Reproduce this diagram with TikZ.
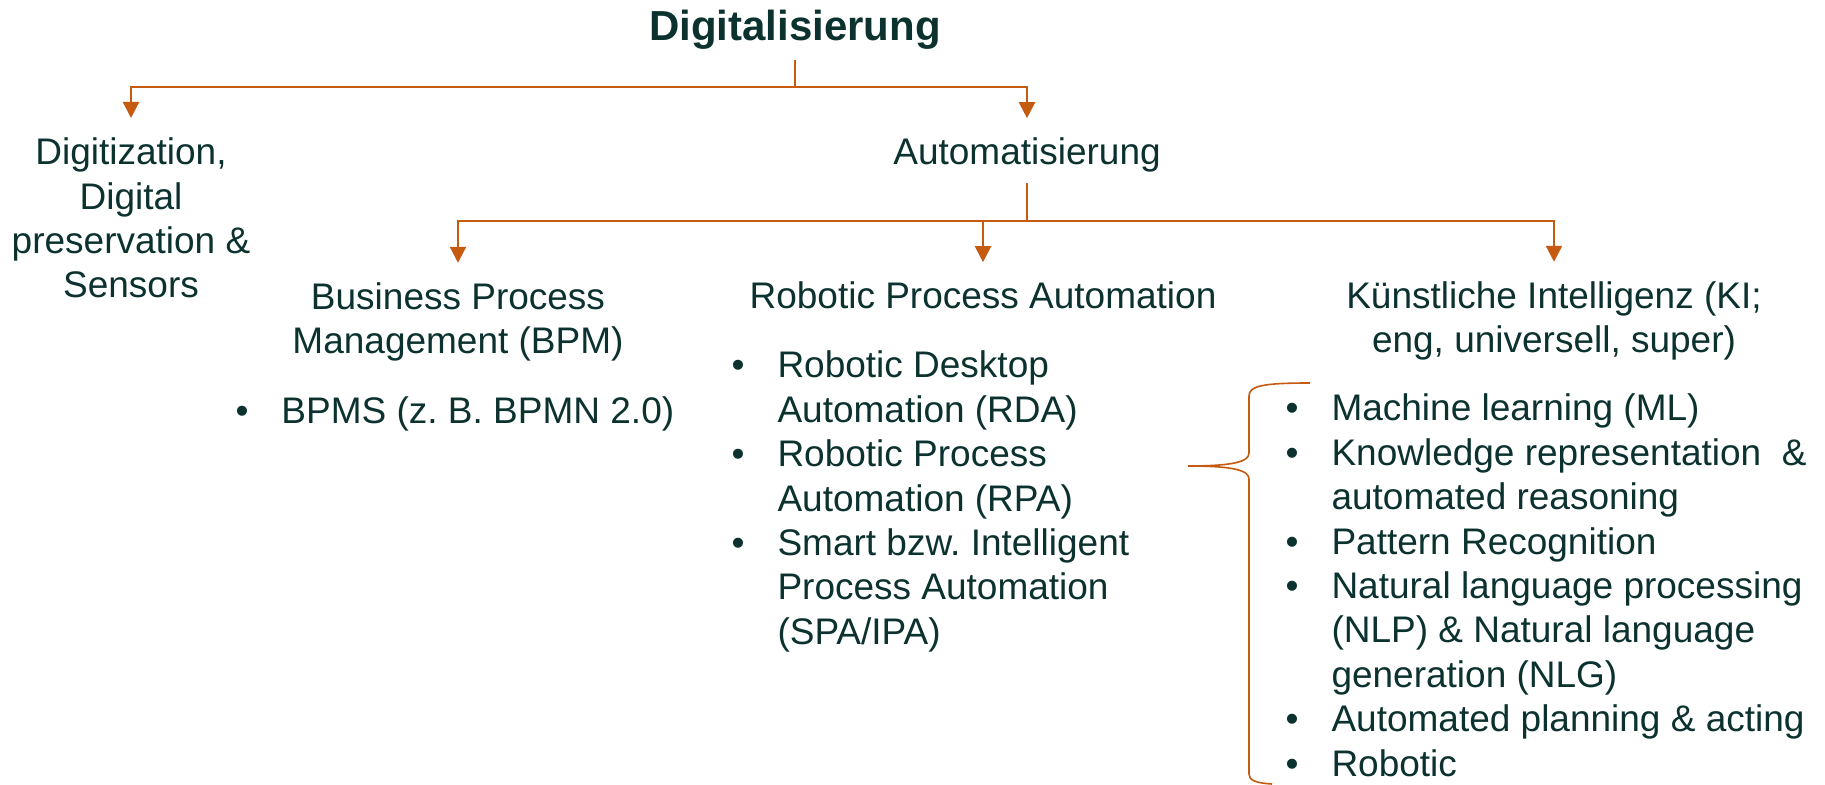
\documentclass[tikz,border=0pt]{standalone}
\usepackage{fontspec}
\setmainfont{Liberation Sans}
\usepackage{tikz}
\usetikzlibrary{arrows.meta}
\definecolor{ink}{HTML}{0C3230}
\definecolor{rust}{HTML}{C55A11}

\begin{document}
\begin{tikzpicture}[x=0.5pt, y=-0.5pt, color=ink,
    main/.style = {inner sep=0pt, outer sep=0pt, align=center, anchor=base, font=\fontsize{18.5}{22.2}\selectfont},
    list/.style = {inner sep=0pt, outer sep=0pt, anchor=base west, font=\fontsize{18.5}{22.2}\selectfont},
    stem/.style = {rust, line width=1.1pt, shorten <=5pt},
    arr/.style = {rust, line width=1.1pt, -{Triangle[length=8pt, width=8pt]}, shorten >=10pt},
    brace/.style = {rust, line width=0.8pt}]
        \useasboundingbox (0,0) rectangle (1825,785);

            \node[main, font=\fontsize{21}{25}\selectfont\bfseries] (1) at (795,41) {Digitalisierung};
            \node[main] (2) at (131,298) {Digitization,\\Digital\\preservation \&\\Sensors};
            \node[main] (3) at (1027,165) {Automatisierung};
            \node[main] (4) at (458,354) {Business Process\\Management (BPM)};
            \node[main] (5) at (983,309) {Robotic Process Automation};
            \node[main] (6) at (1554,353) {Künstliche Intelligenz (KI;\\eng, universell, super)};

            \node[list] (7) at (235.5,424) {\begin{tabular}[t]{@{}p{23pt}@{}l@{}}
                \textbullet & BPMS (z.\ B. BPMN 2.0)
            \end{tabular}};
            \node[list] (8) at (731.5,378) {\begin{tabular}[t]{@{}p{23pt}@{}l@{}}
                \textbullet & Robotic Desktop\\
                            & Automation (RDA)\\
                \textbullet & Robotic Process\\
                            & Automation (RPA)\\
                \textbullet & Smart bzw.\ Intelligent\\
                            & Process Automation\\
                            & (SPA/IPA)
            \end{tabular}};
            \node[list] (9) at (1285.5,421) {\begin{tabular}[t]{@{}p{23pt}@{}l@{}}
                \textbullet & Machine learning (ML)\\
                \textbullet & Knowledge representation\ \ \&\\
                            & automated reasoning\\
                \textbullet & Pattern Recognition\\
                \textbullet & Natural language processing\\
                            & (NLP) \& Natural language\\
                            & generation (NLG)\\
                \textbullet & Automated planning \& acting\\
                \textbullet & Robotic
            \end{tabular}};

            \coordinate (j1) at (795,87);
            \coordinate (j2) at (1027,221);

            \draw[stem] (1) -- (j1);
            \draw[arr] (j1) -| (2);
            \draw[arr] (j1) -| (3);
            \draw[stem] (3) -- (j2);
            \draw[arr] (j2) -| (4);
            \draw[arr] (j2) -| (5);
            \draw[arr] (j2) -| (6);

            \draw[brace] (1310,383) .. controls (1262,383) and (1249,386) .. (1249,396) -- (1249,453)
                .. controls (1249,462) and (1232,466) .. (1188,466)
                .. controls (1232,466) and (1249,470) .. (1249,479) -- (1249,774)
                .. controls (1249,780) and (1255,783) .. (1272,784);

            \end{tikzpicture}
\end{document}
